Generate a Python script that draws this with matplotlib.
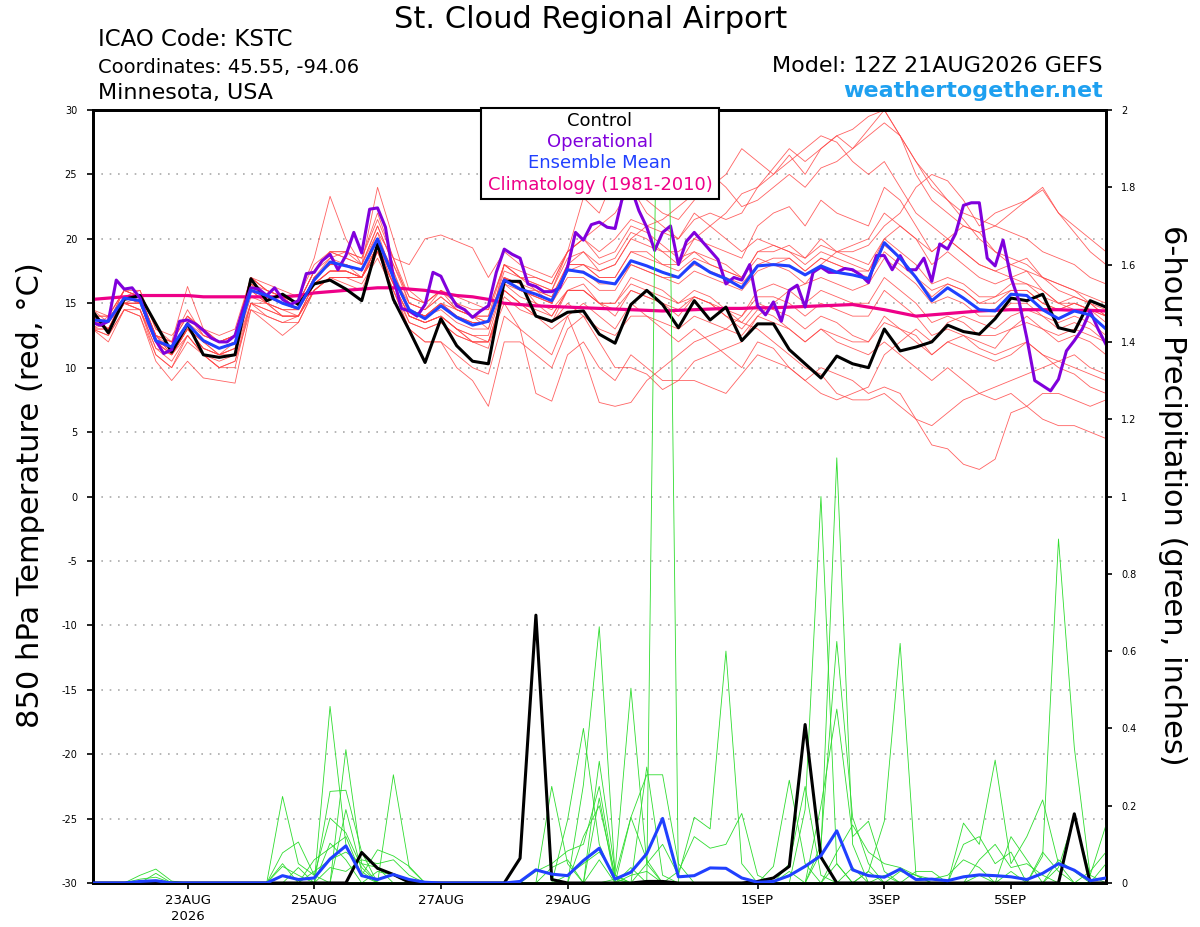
import numpy as np
import matplotlib
matplotlib.use("Agg")
import matplotlib.pyplot as plt
from matplotlib.patches import Rectangle

plt.rcParams["font.family"] = ["DejaVu Sans"]
plt.rcParams["axes.unicode_minus"] = False

# ========= time axis (hours after 12Z 21AUG2026) =========
hours = np.arange(65) * 6          # ensemble, 6-hourly
op_hours = np.arange(129) * 3      # operational run, 3-hourly
tick_hours = [36, 84, 132, 180, 252, 300, 348]
tick_labels = ["23AUG\n2026", "25AUG", "27AUG", "29AUG", "1SEP", "3SEP", "5SEP"]

# ========= 850 hPa temperature (C) =========
control_t = [14.4, 12.7, 15.3, 15.6, 13.4, 11.2, 13.4, 11.0, 10.8, 11.0, 16.9, 15.2, 15.7,
             14.9, 16.5, 16.8, 16.1, 15.2, 19.6, 15.3, 12.9, 10.4, 13.8, 11.7, 10.5, 10.3,
             16.7, 16.7, 14.0, 13.6, 14.3, 14.4, 12.6, 11.9, 14.9, 16.0, 14.9, 13.1, 15.2,
             13.7, 14.7, 12.1, 13.4, 13.4, 11.4, 10.3, 9.2, 10.9, 10.3, 10.0, 13.0, 11.3,
             11.6, 12.0, 13.3, 12.8, 12.6, 13.8, 15.4, 15.2, 15.7, 13.1, 12.8, 15.2, 14.7]

mean_t = [13.7, 13.6, 15.4, 15.2, 12.1, 11.6, 13.4, 12.1, 11.5, 11.9, 16.0, 15.6, 15.0,
          14.6, 16.8, 18.2, 17.9, 17.6, 20.0, 17.0, 14.5, 13.8, 14.8, 13.9, 13.3, 13.6,
          16.8, 16.1, 15.7, 15.2, 17.6, 17.4, 16.7, 16.5, 18.3, 17.9, 17.4, 17.0, 18.2,
          17.4, 16.9, 16.2, 17.9, 18.0, 17.9, 17.2, 17.9, 17.4, 17.2, 16.9, 19.7, 18.5,
          17.0, 15.2, 16.2, 15.4, 14.5, 14.4, 15.7, 15.6, 14.5, 13.8, 14.4, 14.1, 13.0]

climo_t = [15.3, 15.4, 15.5, 15.6, 15.6, 15.6, 15.6, 15.5, 15.5, 15.5, 15.5, 15.5, 15.5,
           15.6, 15.8, 15.9, 16.0, 16.1, 16.2, 16.2, 16.1, 16.0, 15.8, 15.6, 15.5, 15.3,
           15.0, 14.9, 14.8, 14.75, 14.7, 14.65, 14.6, 14.55, 14.5, 14.45, 14.4, 14.45, 14.5,
           14.55, 14.6, 14.6, 14.65, 14.65, 14.7, 14.75, 14.8, 14.85, 14.9, 14.7, 14.5, 14.25,
           14.0, 14.1, 14.2, 14.3, 14.4, 14.45, 14.5, 14.5, 14.5, 14.5, 14.45, 14.45, 14.4]

operational_t = [13.5, 13.3, 13.6, 16.8, 16.1, 16.2, 15.4, 13.6, 12.1, 11.1, 11.4, 13.6, 13.7,
                 13.4, 12.9, 12.3, 12.0, 12.0, 12.5, 14.5, 16.2, 16.1, 15.6, 16.2, 15.3, 14.9,
                 15.2, 17.3, 17.4, 18.3, 18.8, 17.6, 18.7, 20.5, 18.9, 22.3, 22.4, 20.9, 17.0,
                 14.6, 14.4, 14.0, 14.9, 17.4, 17.1, 15.8, 14.8, 14.5, 13.9, 14.4, 14.8, 17.4,
                 19.2, 18.8, 18.5, 16.5, 16.3, 15.9, 15.9, 16.2, 17.8, 20.5, 19.9, 21.1, 21.3,
                 20.9, 20.8, 23.4, 24.0, 22.2, 20.9, 19.1, 20.5, 21.0, 18.0, 19.8, 20.5, 19.8,
                 19.1, 18.4, 16.5, 17.0, 16.8, 18.0, 14.8, 14.1, 15.1, 13.6, 16.0, 16.4, 14.7,
                 17.4, 17.8, 17.4, 17.4, 17.7, 17.6, 17.2, 16.6, 18.7, 18.7, 17.6, 18.7, 17.6,
                 17.6, 18.5, 16.7, 19.6, 19.2, 20.4, 22.6, 22.8, 22.8, 18.5, 17.9, 19.9, 17.0,
                 15.2, 12.3, 9.0, 8.6, 8.2, 9.1, 11.3, 12.1, 13.0, 14.4, 13.0, 11.8]

# ensemble members, 850 hPa temperature
t01 = [14, 13, 15.5, 16, 13, 12, 14, 13, 12, 12.5, 17, 16, 15.5,
       15, 17.5, 19, 18.5, 18, 21, 18, 15, 14.5, 16, 15, 14, 13,
       18, 17, 16, 15.5, 18, 19, 17.5, 18, 20, 19.5, 19, 18, 20,
       21, 22, 23.5, 24, 25, 26.5, 25, 27, 28, 28.5, 29.5, 30, 28,
       26, 24.5, 23, 21.5, 20, 19, 18.5, 18, 17, 16.5, 16, 15, 14]
t02 = [13, 12.5, 14.5, 14, 11, 10, 12, 11, 10, 10, 15, 14, 13.5,
       14, 16, 17, 16.5, 16, 19, 16, 13, 12, 12, 11, 10, 9.5,
       14, 13, 12, 11, 14, 15, 14, 13, 15, 14, 13, 12, 13,
       12, 11, 10, 12, 11.5, 10, 9, 10, 9.5, 9, 8, 8.5, 8,
       6, 4, 3.7, 2.5, 2.1, 2.9, 6.5, 7, 8, 8, 7.5, 7, 7.5]
t03 = [14.5, 13.5, 16, 15.5, 12.5, 11, 13, 11.5, 11, 11, 16.5, 15, 14.5,
       14.5, 17, 18.5, 18, 17, 20, 17.5, 14, 13.5, 14, 13, 12, 12,
       16, 15, 14, 13.5, 16, 16.5, 15, 14, 16, 15.5, 15, 14, 15.5,
       15, 14, 13, 14.5, 14, 13, 12, 13, 12, 11.5, 11, 12, 11,
       10, 9, 10, 9, 8, 7.5, 8, 7, 6, 5.5, 5.5, 5, 4.5]
t04 = [13, 14, 15, 15, 12, 11, 13, 12, 11, 12, 16, 15, 14,
       14, 16.5, 17.5, 17.5, 17, 19.5, 17, 15, 14.5, 15.5, 14.5, 14, 14,
       17, 16, 16, 15.5, 18, 18, 17, 17, 19, 19, 18, 18, 19,
       18, 17.5, 17, 19, 19.5, 19, 18.5, 20, 19, 18.5, 18, 20, 21,
       20, 19, 20, 21, 20.5, 21, 22, 23, 24, 22, 20.5, 19, 18]
t05 = [14, 13.5, 16, 15.5, 12.5, 12, 14.5, 12.5, 12, 12.5, 17, 16, 15.5,
       15.5, 18.5, 23.3, 20, 18, 21, 18, 15.5, 15, 16, 14.5, 14, 13.5,
       17, 16.5, 15, 14, 16, 16, 15, 15, 17, 16.5, 16, 15, 16,
       15.5, 14.5, 13.5, 15, 14.5, 14, 13, 14, 13.5, 12.5, 12, 13.5, 13,
       12.5, 11, 12, 11.5, 11, 10.5, 11, 12, 11, 10, 9.5, 8.5, 8]
t06 = [13.5, 13, 15, 15, 12, 11.5, 13.5, 12, 11.5, 12, 16, 15.5, 15,
       15, 17.5, 18.5, 19, 18, 24, 20, 16, 15, 16, 15.5, 15, 14.5,
       18, 17, 16.5, 16, 18.5, 19, 18, 18.5, 20.5, 20, 19, 19, 20,
       19.5, 19, 18.5, 21, 22, 22.5, 21, 23, 22, 21.5, 21, 24, 23,
       21, 19, 20, 19, 18, 17.5, 18, 18.5, 17, 16.5, 16, 15.5, 15]
t07 = [13, 12, 14.5, 14.5, 11, 10, 12.5, 11, 10, 10.5, 14.5, 14, 13.5,
       13.5, 16, 17, 17, 16.5, 18.5, 16, 13, 12, 12, 10, 9, 7,
       12, 12, 11, 10, 13, 14, 13, 12.5, 14, 14, 13.5, 13, 14,
       13.5, 13, 12.5, 14, 13.5, 13, 12, 13, 12.5, 12, 12, 14, 13,
       12, 11, 12, 12.5, 12, 11.5, 13, 14, 13, 12, 12.5, 12, 11]
t08 = [14, 13, 15, 15, 12.5, 11, 13, 11.5, 11, 11.5, 15, 15, 14,
       14, 16, 17, 17, 17, 19, 16.5, 14, 13.5, 14, 13, 12.5, 12,
       15, 13, 8, 7.4, 11, 12, 10, 9, 11, 10, 9, 9, 10.5,
       11, 11.5, 12, 14, 15, 16, 16.5, 18, 19, 19.5, 20, 22, 21,
       20, 18, 19, 18, 17, 16.5, 17, 17.5, 16, 15, 15, 14.5, 14]
t09 = [14, 14, 16, 15.5, 12.5, 12, 16.3, 13, 12, 12.5, 16.5, 16, 15.5,
       15, 17.5, 19, 18.5, 18, 20.5, 18.5, 18, 20, 20.3, 19.8, 19.3, 17,
       19, 18, 17.5, 17, 19, 20, 18.5, 19, 21, 20.5, 19.5, 18.5, 19,
       18.5, 18, 17, 18.5, 18, 18.5, 17.5, 18.5, 18, 17.5, 17, 19, 18,
       17, 16, 16.5, 16, 15, 15.5, 16, 16, 15, 14.5, 15, 14.5, 14]
t10 = [13.5, 13.5, 15.5, 15, 12, 11.5, 13, 12, 11.5, 12, 16, 15.5, 15,
       14.5, 17, 18, 18, 17.5, 20.5, 17, 14.5, 14, 15, 14.5, 14, 14,
       18, 17, 17, 16.5, 19, 23.2, 22, 25, 24, 22, 21, 20, 22,
       21, 20, 19, 20, 19.5, 19, 18, 19, 18.5, 18, 17.5, 19.5, 18.5,
       17, 15.5, 16.5, 16, 15, 15, 16, 16, 15, 14.5, 15, 14.5, 13.5]
t11 = [13, 13, 15.5, 15, 12, 11.5, 13.5, 12.5, 12, 12.5, 16.5, 15.5, 15,
       14.5, 17, 18, 18, 17.5, 20, 17, 14.5, 14, 15, 14, 13.5, 13.5,
       17, 16.5, 16, 15, 17.5, 18, 17.5, 18, 20, 21, 21.5, 22.5, 23.5,
       24, 25, 27, 26, 25, 26, 27, 28, 27.5, 26, 25, 26, 24,
       22, 21, 20, 19, 18, 17.5, 17, 16.5, 16, 15, 14.5, 14, 13]
t12 = [13.5, 13, 15, 14.5, 11.5, 11, 12.5, 11, 10.5, 11, 15, 14.5, 14,
       14, 16.5, 17.5, 17.5, 17, 19, 16, 13.5, 13, 13.5, 12.5, 12, 12,
       15.5, 14.5, 14, 13.5, 15, 14, 12, 10, 10, 9.5, 8.3, 9, 9,
       8.5, 8, 9.5, 11, 10.5, 10, 9, 8, 7.5, 8, 8.5, 11, 12,
       13, 12, 13.5, 14, 13.5, 13, 14, 14.5, 14, 13, 13.5, 13, 12]
t13 = [14, 13, 15.5, 15, 12, 11, 13, 11.5, 11, 11.5, 16, 15, 14.5,
       14, 16.5, 17.5, 17.5, 17, 19.5, 16.5, 14, 13.5, 14, 13, 12, 11.5,
       16, 15, 14, 13, 14, 11, 7.3, 7, 7.3, 9, 10, 11, 12,
       12.5, 13, 14, 16, 16.5, 16, 15, 16, 15.5, 15, 15, 17, 16,
       15, 13.5, 14, 13.5, 12.5, 12.5, 13, 13.5, 13, 12.5, 13, 12.5, 12]
t14 = [14, 14, 16, 15.5, 12.5, 12, 14, 12.5, 12, 12.5, 17, 16, 15.5,
       15, 17.5, 19, 19, 18.5, 22, 18.5, 15, 14.5, 15.5, 14.5, 14, 13.5,
       17.5, 17, 16.5, 16, 19, 20, 21, 22, 24, 23, 22, 21.5, 23,
       25.1, 24, 22.5, 23, 24, 25, 24, 25.5, 26, 27, 28, 29, 28,
       25, 23, 22, 21, 20.5, 19, 18, 17.5, 17, 16, 15.5, 15, 14.5]
t15 = [13, 13.5, 15, 15, 12, 11.5, 13.5, 12, 11.5, 12, 16, 15.5, 15,
       14.5, 17, 18, 18, 17.5, 20, 17, 14.5, 14, 15, 14, 13.5, 13.5,
       17, 16, 15.5, 15, 17.5, 17.5, 16.5, 16.5, 18, 17.5, 17, 16.5, 17.5,
       17, 16.5, 16, 17.5, 18, 17.5, 16.5, 17, 16.5, 16, 16.5, 18.5, 17.5,
       16.5, 15, 15.5, 15, 14, 14, 15, 15, 14, 13.5, 14, 13.5, 12.5]
t16 = [13.5, 13, 15, 15.5, 12.5, 11.5, 13.5, 12, 11.5, 12, 16, 15.5, 15.5,
       14.5, 17, 18, 18, 17.5, 20, 17.5, 14.5, 14, 15, 14, 13.5, 13.5,
       17, 16, 15.5, 15, 18, 18, 17, 17, 19, 18.5, 18, 17.5, 18.5,
       18, 17.5, 17, 19, 19, 19.5, 18.5, 19.5, 19, 19, 19.5, 21, 22,
       24, 25, 24.5, 23, 21, 22, 22.5, 23, 23.8, 22, 21, 20, 19]
t17 = [14, 13, 15, 14.5, 12, 11, 13, 12, 11, 11.5, 15.5, 15, 14.5,
       14.5, 16.5, 17.5, 17.5, 17, 19.5, 17, 14.5, 14, 14.5, 13.5, 13, 13,
       16.5, 15.5, 15, 14.5, 16, 16, 15, 15, 16.5, 16, 15.5, 15, 15.5,
       15, 14, 13.5, 13, 12, 11, 10, 9.5, 8, 7.5, 7.5, 8, 7,
       6, 5.5, 6.5, 7.5, 8, 8.5, 9, 9.5, 10, 10.5, 10, 9.5, 9]
t18 = [13, 12.5, 14.5, 14, 10.5, 9, 10.5, 9.2, 9, 8.8, 14.5, 13.5, 12.5,
       13.5, 16, 17, 17, 17, 19, 16.5, 14, 13.5, 14, 13, 12.5, 12.5,
       16.5, 16, 15.5, 15, 17, 17, 16, 16, 18, 17.5, 17, 17, 18,
       17.5, 17, 16.5, 18, 18.5, 18.5, 17.5, 18.5, 18, 17.5, 17.5, 20, 19,
       18, 16.5, 17, 16.5, 15.5, 15.5, 16.5, 16.5, 15.5, 15, 15.5, 15, 14]
t19 = [14.5, 14, 16, 16, 13, 12.5, 14, 13, 12.5, 13, 17, 16.5, 16,
       15.5, 18, 19, 19, 18.5, 21.5, 18.5, 15.5, 15, 16, 15, 14.5, 14.5,
       18, 17.5, 17, 16.5, 19, 20, 19, 20, 21.5, 21, 20.5, 20, 21.5,
       22, 21.5, 22, 24, 25.5, 27, 26, 27, 28, 27, 28.5, 30, 28,
       26, 24, 23, 22, 21.5, 21, 20.5, 20, 19, 18.5, 18, 17, 16.5]
t20 = [13, 13, 15, 14.5, 11.5, 10.5, 12.5, 11, 10, 10.5, 15, 14.5, 14,
       14, 16, 17, 17, 17, 19.5, 16.5, 13.5, 13, 13.5, 12.5, 12, 12,
       16, 15, 14.5, 14, 16, 16, 15, 14.5, 16, 15.5, 15, 14.5, 15.5,
       15, 14.5, 14, 15.5, 15.5, 15, 14, 15, 14.5, 14, 14, 16, 15,
       14, 12.5, 13, 12.5, 11.5, 11, 11.5, 12, 11, 10.5, 11, 10, 9.5]
members_t = [t01, t02, t03, t04, t05, t06, t07, t08, t09, t10,
             t11, t12, t13, t14, t15, t16, t17, t18, t19, t20]

# ========= 6-hour precipitation (inches) =========
control_p = {17: 0.079, 18: 0.038, 19: 0.022, 20: 0.002, 27: 0.064, 28: 0.693, 29: 0.009,
             35: 0.004, 36: 0.004, 42: 0.004, 43: 0.013, 44: 0.043, 45: 0.41, 46: 0.067,
             62: 0.179}
mean_p = [0, 0, 0, 0.004, 0.006, 0, 0, 0, 0, 0, 0, 0, 0.019,
          0.009, 0.013, 0.062, 0.096, 0.019, 0.009, 0.022, 0.009, 0.002, 0, 0, 0, 0,
          0, 0.004, 0.034, 0.023, 0.019, 0.058, 0.090, 0.010, 0.028, 0.076, 0.167, 0.016, 0.019,
          0.039, 0.038, 0.013, 0.002, 0.004, 0.019, 0.043, 0.071, 0.135, 0.034, 0.019, 0.015, 0.036,
          0.009, 0.010, 0.006, 0.016, 0.021, 0.019, 0.016, 0.009, 0.025, 0.050, 0.033, 0.006, 0.013]

# ensemble members, non-zero 6-hour totals only (index -> inches)
p01 = {3: 0.02, 4: 0.036, 5: 0.005, 12: 0.224, 13: 0.05, 14: 0.02, 29: 0.25, 30: 0.05, 56: 0.02}
p02 = {4: 0.025, 15: 0.457, 16: 0.1, 17: 0.02, 30: 0.163, 31: 0.4, 32: 0.1, 44: 0.03}
p03 = {3: 0.01, 4: 0.015, 16: 0.345, 17: 0.05, 31: 0.254, 32: 0.663, 33: 0.02, 47: 0.05}
p04 = {15: 0.237, 16: 0.24, 17: 0.08, 32: 0.315, 33: 0.03, 34: 0.504, 35: 0.05, 48: 0.04}
p05 = {16: 0.19, 17: 0.03, 19: 0.28, 20: 0.04, 28: 0.03, 29: 0.05, 30: 0.083, 31: 0.1,
       32: 0.25, 33: 0.01, 49: 0.03}
p06 = {12: 0.078, 13: 0.106, 14: 0.02, 15: 0.168, 16: 0.13, 17: 0.04, 31: 0.12, 32: 0.2,
       33: 0.02, 35: 0.30, 36: 0.02, 50: 0.02}
p07 = {12: 0.05, 14: 0.06, 15: 0.09, 16: 0.12, 17: 0.02, 18: 0.086, 19: 0.07, 20: 0.043,
       36: 3.3, 51: 0.03, 52: 0.02}
p08 = {12: 0.043, 13: 0.02, 15: 0.103, 16: 0.06, 18: 0.03, 19: 0.02, 29: 0.04, 30: 0.06,
       32: 0.22, 34: 0.17, 35: 0.28, 36: 0.28, 37: 0.05}
p09 = {14: 0.03, 15: 0.06, 16: 0.08, 17: 0.05, 18: 0.04, 33: 0.01, 35: 0.05, 36: 0.1,
       37: 0.02, 38: 0.17, 39: 0.14, 40: 0.6, 41: 0.05}
p10 = {13: 0.04, 15: 0.04, 16: 0.03, 17: 0.06, 18: 0.05, 19: 0.06, 20: 0.02, 37: 0.03,
       38: 0.12, 39: 0.09, 40: 0.1, 41: 0.18, 42: 0.02}
p11 = {30: 0.02, 31: 0.05, 32: 0.08, 33: 0.02, 34: 0.17, 35: 0.06, 43: 0.043, 44: 0.266,
       45: 0.05, 58: 0.03}
p12 = {32: 0.06, 34: 0.04, 44: 0.05, 45: 0.25, 46: 0.02, 55: 0.1, 56: 0.12, 57: 0.05, 58: 0.08}
p13 = {45: 0.19, 46: 1.0, 47: 0.05, 56: 0.06, 57: 0.1, 58: 0.04, 59: 0.05, 60: 0.02}
p14 = {46: 0.08, 47: 1.1, 48: 0.1, 52: 0.03, 53: 0.03, 60: 0.08, 61: 0.03, 64: 0.05}
p15 = {46: 0.1, 47: 0.625, 48: 0.17, 49: 0.05, 61: 0.04, 62: 0.17, 63: 0.02}
p16 = {46: 0.2, 47: 0.45, 48: 0.12, 49: 0.16, 50: 0.03, 63: 0.03, 64: 0.08}
p17 = {49: 0.03, 50: 0.16, 51: 0.62, 52: 0.02, 58: 0.12, 59: 0.06, 61: 0.06, 62: 0.03}
p18 = {47: 0.08, 48: 0.15, 49: 0.08, 50: 0.05, 51: 0.04, 52: 0.02, 53: 0.01, 54: 0.02,
       55: 0.06, 56: 0.04}
p19 = {55: 0.155, 56: 0.1, 57: 0.318, 58: 0.05, 59: 0.12, 60: 0.215, 61: 0.05}
p20 = {34: 0.02, 35: 0.03, 60: 0.07, 61: 0.89, 62: 0.35, 63: 0.02, 64: 0.15}
members_p = [p01, p02, p03, p04, p05, p06, p07, p08, p09, p10,
             p11, p12, p13, p14, p15, p16, p17, p18, p19, p20]


def full_series(nonzero):
    vals = np.zeros(len(hours))
    for i, v in nonzero.items():
        vals[i] = v
    return vals


# ========= colours =========
RED = "#ff4646"
GREEN = "#2edc2e"
PURPLE = "#8000dc"
BLUE = "#2040ff"
MAGENTA = "#ee0088"
WT_BLUE = "#1ea0f0"

# ========= figure =========
W, H = 1200, 927
fig = plt.figure(figsize=(W / 100, H / 100), dpi=100)
ax = fig.add_axes([92.5 / W, 1 - 883 / H, 1013.5 / W, 773 / H])
ax2 = ax.twinx()

# temperature axis
for v in range(-25, 30, 5):
    ax.axhline(v, color="#aaaaaa", lw=1.2, ls=(0, (1, 4)), zorder=0.5)

for m in members_t:
    ax.plot(hours, m, color=RED, lw=0.6, alpha=0.85, zorder=1)
ax.plot(hours, climo_t, color=MAGENTA, lw=2.3, zorder=3)
ax.plot(hours, control_t, color="black", lw=2.2, zorder=4)
ax.plot(op_hours, operational_t, color=PURPLE, lw=2.2, zorder=5)
ax.plot(hours, mean_t, color=BLUE, lw=2.2, zorder=6)

ax.set_xlim(0, 384)
ax.set_ylim(-30, 30)
ax.set_yticks(range(-30, 31, 5))
ax.set_xticks(tick_hours)
ax.set_xticklabels(tick_labels)
for lbl in ax.get_xticklabels():
    lbl.set_linespacing(1.3)
ax.tick_params(axis="y", direction="out", length=4, width=1.2, labelsize=7, pad=7)
ax.tick_params(axis="x", direction="out", length=4, width=1.2, labelsize=9.5, pad=4)

# precipitation axis
for m in members_p:
    ax2.plot(hours, full_series(m), color=GREEN, lw=0.6, zorder=1)
ax2.plot(hours, mean_p, color=BLUE, lw=2.2, zorder=3)
ax2.plot(hours, full_series(control_p), color="black", lw=2.2, zorder=2)
ax2.set_ylim(0, 2)
ax2.set_yticks(np.arange(0, 2.01, 0.2))
ax2.set_yticklabels(["0", "0.2", "0.4", "0.6", "0.8", "1", "1.2", "1.4", "1.6", "1.8", "2"])
ax2.tick_params(axis="y", direction="out", length=4, width=1.2, labelsize=7, pad=7)

for a in (ax, ax2):
    for s in a.spines.values():
        s.set_linewidth(2.0)

# axis titles
fig.text(31 / W, 1 - 495 / H, "850 hPa Temperature (red, °C)", rotation=90,
         ha="center", va="center", fontsize=22)
fig.text(1172 / W, 1 - 495 / H, "6-hour Precipitation (green, inches)", rotation=270,
         ha="center", va="center", fontsize=22)

# header
fig.text(591 / W, 1 - 28 / H, "St. Cloud Regional Airport", ha="center", va="baseline",
         fontsize=22)
fig.text(98 / W, 1 - 46 / H, "ICAO Code: KSTC", ha="left", va="baseline", fontsize=16.5)
fig.text(98 / W, 1 - 73 / H, "Coordinates: 45.55, -94.06", ha="left", va="baseline", fontsize=14)
fig.text(98 / W, 1 - 99 / H, "Minnesota, USA", ha="left", va="baseline", fontsize=16)
fig.text(1103 / W, 1 - 72 / H, "Model: 12Z 21AUG2026 GEFS", ha="right", va="baseline",
         fontsize=16)
fig.text(1103 / W, 1 - 97 / H, "weathertogether.net", ha="right", va="baseline",
         fontsize=16, fontweight="bold", color=WT_BLUE)

# legend box
box = Rectangle((481 / W, 1 - 199 / H), 238 / W, 91 / H, transform=fig.transFigure,
                facecolor="white", edgecolor="black", lw=1.5, zorder=10)
fig.add_artist(box)
legend_rows = [("Control", "black", 121), ("Operational", PURPLE, 142),
               ("Ensemble Mean", BLUE, 163), ("Climatology (1981-2010)", MAGENTA, 185)]
for txt, col, yc in legend_rows:
    fig.text(600 / W, 1 - yc / H, txt, ha="center", va="center", color=col,
             fontsize=13, zorder=11)

fig.savefig("out.png", dpi=100)
